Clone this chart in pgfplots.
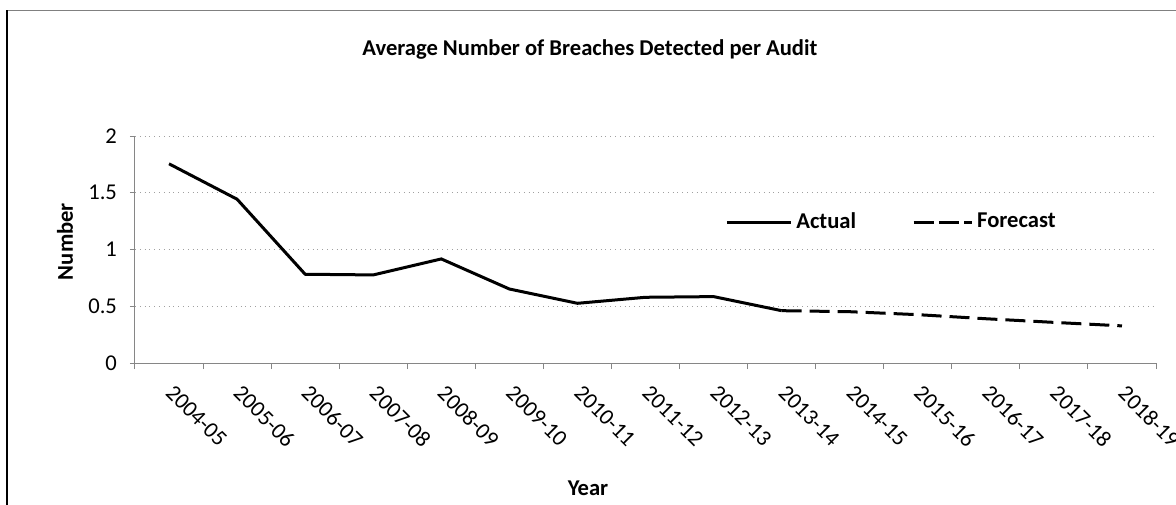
\documentclass[border=0pt]{standalone}
\usepackage{pgfplots}
\pgfplotsset{compat=1.18}
\usepackage{fontspec}
\setmainfont{Carlito}
\definecolor{axisgray}{HTML}{868686}
\definecolor{gridgray}{HTML}{A0A0A0}
\pgfplotsset{shortleg/.style={legend image code/.code={\draw[##1, dash pattern=on 10.3pt off 2.3pt] (0pt,0pt) -- (29pt,0pt);}}}
\begin{document}
\begin{tikzpicture}
\useasboundingbox (-67.5pt,-70.5pt) rectangle (520.5pt,181.5pt);
\begin{axis}[
  scale only axis,
  width=510.5pt, height=113.5pt,
  xmin=0.5, xmax=15.5, ymin=0, ymax=2,
  axis lines*=left,
  axis line style={axisgray, line width=0.5pt},
  ytick={0,0.5,1,1.5,2},
  yticklabels={0,0.5,1,1.5,2},
  ymajorgrids,
  grid style={gridgray, dotted, line width=0.5pt},
  xtick={1,...,15},
  xticklabels={2004-05,2005-06,2006-07,2007-08,2008-09,2009-10,2010-11,2011-12,2012-13,2013-14,2014-15,2015-16,2016-17,2017-18,2018-19},
  minor xtick={0.5,1.5,...,15.5},
  tick align=outside,
  major tick length=2.5pt,
  minor tick length=3pt,
  x tick style={draw=none},
  minor x tick style={draw=axisgray, line width=0.5pt},
  y tick style={axisgray, line width=0.5pt},
  xticklabel style={xshift=3pt, yshift=-3pt, rotate=-45, anchor=north west, font=\fontsize{11.3}{13}\selectfont},
  yticklabel style={xshift=-3pt, font=\fontsize{11.3}{13}\selectfont},
  /pgf/number format/assume math mode=true,
  title={\textbf{Average Number of Breaches Detected per Audit}},
  title style={at={(axis description cs:0.4456,1.330)}, anchor=center, font=\fontsize{11.3}{13}\selectfont},
  ylabel={\textbf{Number}},
  ylabel style={at={(axis description cs:-0.0686,0.535)}, anchor=center, rotate=0, font=\fontsize{11.3}{13}\selectfont},
  xlabel={\textbf{Year}},
  xlabel style={at={(axis description cs:0.4437,-0.5507)}, anchor=center, font=\fontsize{11.3}{13}\selectfont},
  legend columns=2,
  legend style={at={(axis description cs:0.7419,0.6211)}, anchor=center, draw=none, fill=none,
    font=\fontsize{11.3}{13}\selectfont\bfseries, /tikz/every even column/.append style={column sep=26pt}},
  legend image code/.code={\draw[#1] (0pt,0pt) -- (32pt,0pt);},
]
\addplot[black, line width=1.5pt] coordinates {
(1,1.755) (2,1.443) (3,0.782) (4,0.776) (5,0.917) (6,0.652) (7,0.526) (8,0.579) (9,0.585) (10,0.461)
};
\addlegendentry{Actual}
\addplot[black, line width=1.5pt, dash pattern=on 10pt off 4pt, shortleg] coordinates {
(10,0.461) (11,0.452) (12,0.426) (13,0.390) (14,0.358) (15,0.327)
};
\addlegendentry{Forecast}
\end{axis}
\draw[gray, line width=0.75pt] (-64pt,176.25pt) -- (530pt,176.25pt);
\draw[black, line width=0.75pt] (-64pt,-80pt) -- (-64pt,176.25pt);
\end{tikzpicture}
\end{document}
